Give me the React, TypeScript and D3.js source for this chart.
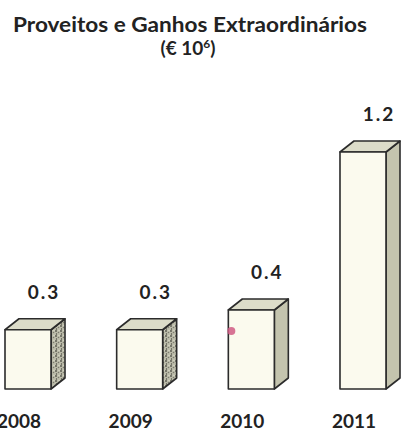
import * as d3 from 'd3';

const years = ['2008', '2009', '2010', '2011'];
const values = [0.3, 0.3, 0.4, 1.2];
const valueLabels = ['0.3', '0.3', '0.4', '1.2'];
const titleMain = 'Proveitos e Ganhos Extraordinários';
const titleUnit = '(€ 10';
const titleExp = '6';

const W = 401;
const H = 435;
const font = 'Lato, "DejaVu Sans", sans-serif';

const App = () => {
  const x = d3.scaleBand<string>().domain(years).range([5, 386]).paddingInner(0.588).paddingOuter(0);
  const y = d3.scaleLinear().domain([0, 1.2]).range([389, 152]);
  const bw = x.bandwidth();
  const dx = 14;
  const dy = 11;

  return (
    <svg width={W} height={H} style={{ position: 'absolute', left: 0, top: 0, background: '#fff' }}>
      <defs>
        <pattern id="grain" width="5" height="5" patternUnits="userSpaceOnUse">
          <rect width="5" height="5" fill="#bdbdab" />
          <circle cx="1" cy="1" r="0.9" fill="#55554c" />
          <circle cx="3.5" cy="2.5" r="0.8" fill="#7a7a6e" />
          <circle cx="1.5" cy="4" r="0.7" fill="#4a4a42" />
          <circle cx="4" cy="0.5" r="0.5" fill="#ededdf" />
        </pattern>
      </defs>
      <g fontFamily={font} fontWeight="bold" fill="#222" textAnchor="middle">
        <text x={190} y={32} fontSize={20} textLength={354} lengthAdjust="spacingAndGlyphs">
          {titleMain}
        </text>
        <text x={188} y={55} fontSize={19}>
          {titleUnit}
          <tspan fontSize={12} dy={-7}>{titleExp}</tspan>
          <tspan dy={7}>)</tspan>
        </text>
      </g>
      {years.map((yr, i) => {
        const x0 = x(yr)!;
        const x1 = x0 + bw;
        const top = y(values[i]);
        const bot = y(0);
        const side = `M${x1},${top}L${x1 + dx},${top - dy}L${x1 + dx},${bot - dy}L${x1},${bot}Z`;
        const lid = `M${x0},${top}L${x0 + dx},${top - dy}L${x1 + dx},${top - dy}L${x1},${top}Z`;
        return (
          <g key={yr} stroke="#2b2b2b" strokeWidth={1.6} strokeLinejoin="round">
            <path d={side} fill={i < 2 ? 'url(#grain)' : '#c4c4ae'} />
            <path d={lid} fill="#dcdcc9" />
            <rect x={x0} y={top} width={bw} height={bot - top} fill="#fbfaee" />
            <text
              x={x0 + bw / 2 + 16}
              y={top - dy - 20}
              fontFamily={font}
              fontWeight="bold"
              fontSize={19}
              letterSpacing={2}
              textAnchor="middle"
              stroke="none"
              fill="#222"
            >
              {valueLabels[i]}
            </text>
            <text
              x={x0 + bw / 2 - 9}
              y={428}
              fontFamily={font}
              fontWeight="bold"
              fontSize={19}
              textAnchor="middle"
              stroke="none"
              fill="#222"
            >
              {yr}
            </text>
          </g>
        );
      })}
      <circle cx={x('2010')! + 3} cy={331} r={4} fill="#d05a84" opacity={0.85} />
    </svg>
  );
};

export default App;
